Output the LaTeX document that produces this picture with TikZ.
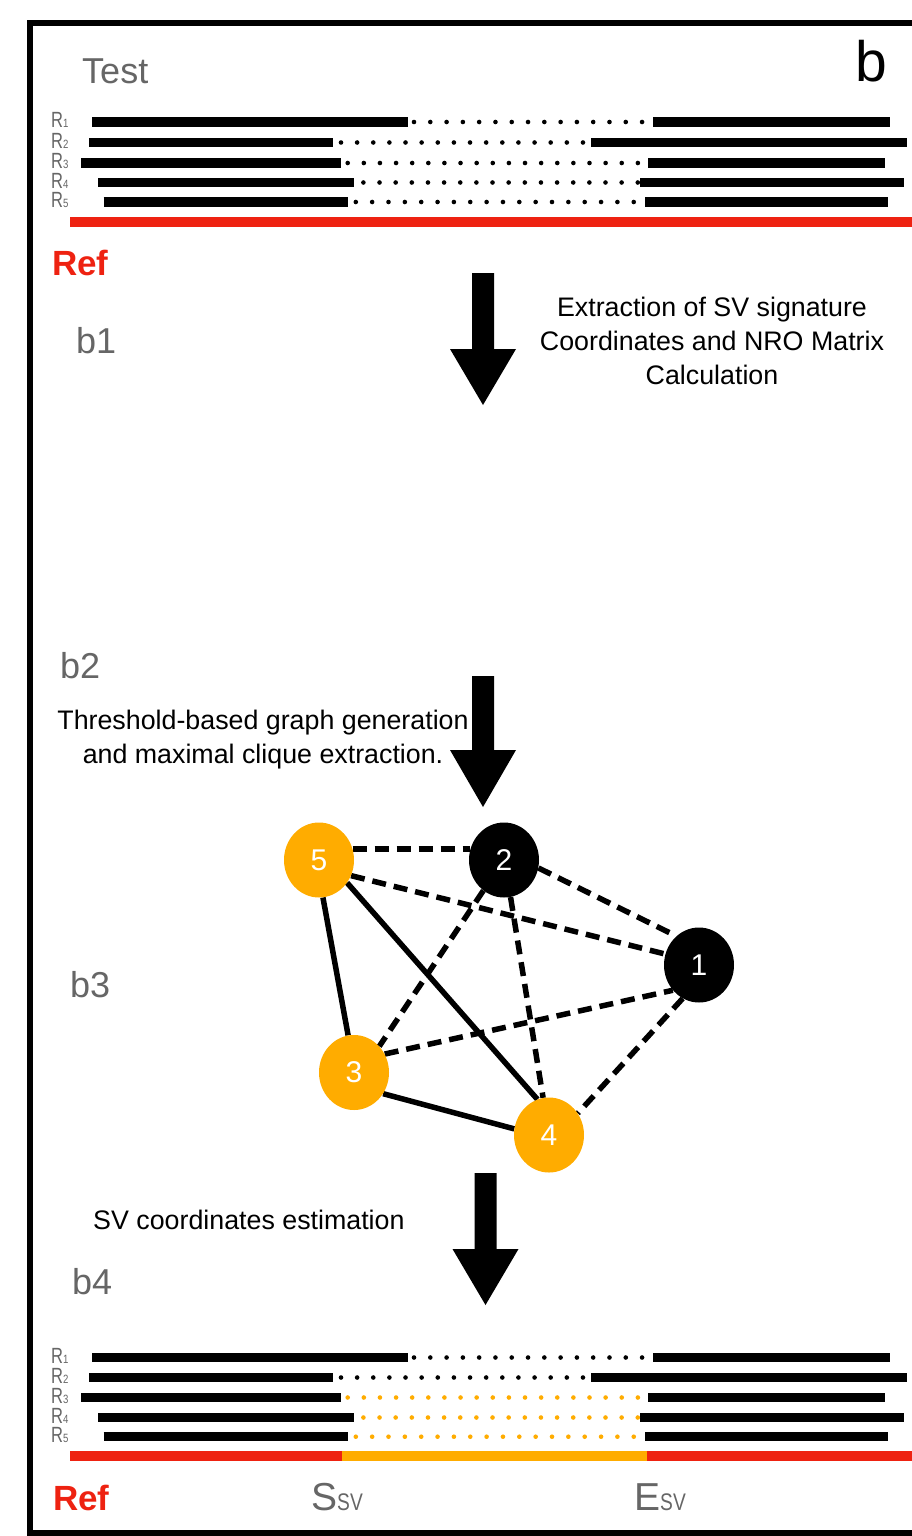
\documentclass[tikz,border=0pt]{standalone}
\usepackage{fontspec}
\setmainfont{Liberation Sans}
\usepackage{graphicx}
\usetikzlibrary{shapes.geometric,backgrounds}
\definecolor{myred}{HTML}{EE2211}
\definecolor{myorange}{HTML}{FFAC00}
\definecolor{mygray}{HTML}{666666}
\newcommand\myfs[1]{\fontsize{#1}{#1}\selectfont}
\newcommand\dotrow[5]{\foreach \i in {0,...,#3} {\fill[#5] ({#1+\i*#2},#4) circle[radius=2.3pt];}}
\newcommand\bigarrow[4]{\fill (#1-11,#2) -- (#1+11,#2) -- (#1+11,#3) -- (#1+33,#3) -- (#1,#4) -- (#1-33,#3) -- (#1-11,#3) -- cycle;}
\newcommand\rtxt[1]{\myfs{22}\scalebox{0.75}[1]{R}\myfs{12}\scalebox{0.8}[1]{#1}}
\tikzset{
  bar/.style={line width=9.5pt, black},
  refline/.style={line width=9.5pt},
  rlabel/.style={anchor=base west, text=mygray, inner sep=0pt},
  glabel/.style={anchor=base west, text=mygray, inner sep=0pt, font=\myfs{36}},
  reflabel/.style={anchor=base west, text=myred, inner sep=0pt, font=\myfs{35}\bfseries},
  desc/.style={align=center, inner sep=0pt, font=\fontsize{26.8}{34}\selectfont},
  gnode/.style={ellipse, minimum width=70pt, minimum height=75pt, inner sep=0pt, text=white, font=\myfs{30}},
  onode/.style={gnode, fill=myorange},
  bnode/.style={gnode, fill=black},
  solidedge/.style={line width=5.5pt},
  dashedge/.style={line width=5.5pt, dash pattern=on 14pt off 8pt},
}
\begin{document}
\begin{tikzpicture}[x=1pt,y=-1pt]
\useasboundingbox (0,0) rectangle (912,1536);
% frame
\draw[line width=6pt, line join=miter] (920,23) -- (30,23) -- (30,1533) -- (920,1533);

% ---------- top section ----------
\node[glabel] (test) at (82,84) {Test};
\node[anchor=base west, inner sep=0pt, font=\myfs{57}] (blab) at (855,82) {b};

\node[rlabel] (r1t) at (51,127.5) {\rtxt{1}};
\node[rlabel] (r2t) at (51,148) {\rtxt{2}};
\node[rlabel] (r3t) at (51,168.5) {\rtxt{3}};
\node[rlabel] (r4t) at (51,188) {\rtxt{4}};
\node[rlabel] (r5t) at (51,207.5) {\rtxt{5}};

\draw[bar] (92,122) -- (408,122);  \draw[bar] (653,122) -- (890,122);
\draw[bar] (89,142.5) -- (333,142.5); \draw[bar] (591,142.5) -- (907,142.5);
\draw[bar] (81,163) -- (341,163); \draw[bar] (648,163) -- (885,163);
\draw[bar] (98,182.5) -- (354,182.5); \draw[bar] (640,182.5) -- (904,182.5);
\draw[bar] (103.5,202) -- (348,202); \draw[bar] (645,202) -- (888,202);
\dotrow{414}{16.29}{14}{122}{black}
\dotrow{341}{16.13}{15}{142.5}{black}
\dotrow{347.7}{16.12}{18}{163}{black}
\dotrow{363.4}{16.14}{17}{182.5}{black}
\dotrow{355.8}{16.35}{17}{202}{black}
\draw[refline, myred] (70,222) -- (912,222);
\node[reflabel] (reft) at (52,275) {Ref};

% ---------- b1 ----------
\node[glabel] (b1) at (76,353) {b1};
\bigarrow{483}{273}{349}{405}
\node[desc] (t1) at (712,341) {Extraction of SV signature\\Coordinates and NRO Matrix\\Calculation};

% ---------- b2 ----------
\node[glabel] (b2) at (60,678) {b2};
\bigarrow{483}{676}{750}{807}
\node[desc] (t2) at (263,740) {Threshold-based graph generation\\and maximal clique extraction.};

% ---------- b3 graph ----------
\node[glabel] (b3) at (70,997) {b3};
\node[onode] (n5) at (319,860) {5};
\node[bnode] (n2) at (504,860) {2};
\node[bnode] (n1) at (699,965) {1};
\node[onode] (n3) at (354,1072.5) {3};
\node[onode] (n4) at (549,1135) {4};
\begin{scope}[on background layer]
  \draw[dashedge] (n5.18) -- (n2.162);
  \draw[dashedge] (n2.-13) -- (n1.128);
  \draw[dashedge] (n5.-26) -- (n1.162);
  \draw[dashedge] (n2.-124) -- (n3.46);
  \draw[dashedge] (n2.-80) -- (n4.99);
  \draw[dashedge] (n3.31) -- (n1.-136);
  \draw[dashedge] (n1.-116) -- (n4.37);
  \draw[solidedge] (n5.-84) -- (n3.99);
  \draw[solidedge] (n5.-39) -- (n4.108);
  \draw[solidedge] (n3.-36) -- (n4.170);
\end{scope}

% ---------- b4 ----------
\node[anchor=base west, inner sep=0pt, font=\myfs{26.8}] (t3) at (93,1229) {SV coordinates estimation};
\bigarrow{485.5}{1173}{1249}{1305}
\node[glabel] (b4) at (72,1294) {b4};

\node[rlabel] (r1b) at (51,1363) {\rtxt{1}};
\node[rlabel] (r2b) at (51,1383) {\rtxt{2}};
\node[rlabel] (r3b) at (51,1403) {\rtxt{3}};
\node[rlabel] (r4b) at (51,1423) {\rtxt{4}};
\node[rlabel] (r5b) at (51,1442.2) {\rtxt{5}};

\draw[bar] (92,1357.5) -- (408,1357.5);  \draw[bar] (653,1357.5) -- (890,1357.5);
\draw[bar] (89,1377.5) -- (333,1377.5); \draw[bar] (591,1377.5) -- (907,1377.5);
\draw[bar] (81,1397.5) -- (341,1397.5); \draw[bar] (648,1397.5) -- (885,1397.5);
\draw[bar] (98,1417.5) -- (354,1417.5); \draw[bar] (640,1417.5) -- (904,1417.5);
\draw[bar] (103.5,1436.7) -- (348,1436.7); \draw[bar] (645,1436.7) -- (888,1436.7);
\dotrow{414}{16.29}{14}{1357.5}{black}
\dotrow{341}{16.13}{15}{1377.5}{black}
\dotrow{347.7}{16.12}{18}{1397.5}{myorange}
\dotrow{363.4}{16.14}{17}{1417.5}{myorange}
\dotrow{355.8}{16.35}{17}{1436.7}{myorange}
\draw[refline, myred] (70,1456) -- (342,1456);
\draw[refline, myorange] (342,1456) -- (646.5,1456);
\draw[refline, myred] (646.5,1456) -- (912,1456);

\node[reflabel] (refb) at (53,1510) {Ref};
\node[rlabel] (ssv) at (311,1510) {\myfs{39}S\myfs{24}\scalebox{0.8}[1]{SV}};
\node[rlabel] (esv) at (634,1510) {\myfs{39}E\myfs{24}\scalebox{0.8}[1]{SV}};
\end{tikzpicture}
\end{document}
